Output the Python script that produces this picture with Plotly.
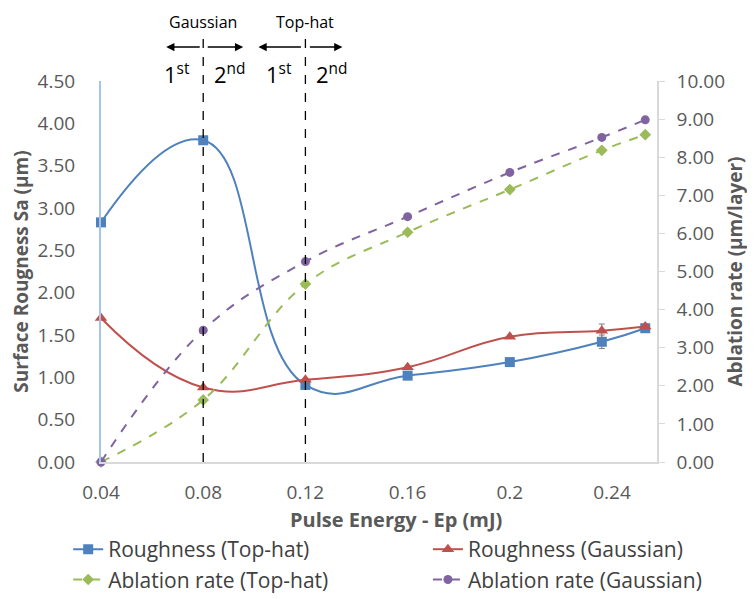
import plotly.graph_objects as go

# ---- data ----
pulse_energy = [0.04, 0.08, 0.12, 0.16, 0.2, 0.236, 0.253]
rough_tophat = [2.83, 3.80, 0.91, 1.02, 1.18, 1.42, 1.58]
rough_gauss = [1.70, 0.88, 0.97, 1.12, 1.48, 1.55, 1.60]
abl_tophat = [0.0, 1.63, 4.67, 6.03, 7.15, 8.18, 8.59]
abl_gauss = [0.0, 3.46, 5.26, 6.44, 7.60, 8.52, 8.98]
rough_tophat_err = [0, 0, 0, 0, 0, 0.08, 0]
rough_gauss_err = [0, 0, 0, 0, 0, 0.08, 0]
x_ticks = [0.04, 0.08, 0.12, 0.16, 0.2, 0.24]
x_tick_labels = ["0.04", "0.08", "0.12", "0.16", "0.2", "0.24"]
mode_boundaries = [0.08, 0.12]
mode_names = ["Gaussian", "Top-hat"]

FONT = "Open Sans"
GRAY = "#595959"

fig = go.Figure()

fig.add_trace(go.Scatter(
    x=pulse_energy, y=rough_tophat, name="Roughness (Top-hat)", legend="legend",
    mode="lines+markers", line=dict(color="#4F81BD", width=2, shape="spline", smoothing=1.3),
    marker=dict(symbol="square", size=10, color="#4F81BD"),
    error_y=dict(type="data", array=rough_tophat_err, color="#7F7F7F", thickness=1, width=3),
    cliponaxis=False))
fig.add_trace(go.Scatter(
    x=pulse_energy, y=rough_gauss, name="Roughness (Gaussian)", legend="legend2",
    mode="lines+markers", line=dict(color="#C0504D", width=2, shape="spline", smoothing=1.3),
    marker=dict(symbol="triangle-up", size=11, color="#C0504D"),
    error_y=dict(type="data", array=rough_gauss_err, color="#7F7F7F", thickness=1, width=3),
    cliponaxis=False))
fig.add_trace(go.Scatter(
    x=pulse_energy, y=abl_tophat, name="Ablation rate (Top-hat)", yaxis="y2", legend="legend",
    mode="lines+markers", line=dict(color="#9BBB59", width=2, dash="dash", shape="spline", smoothing=1.1),
    marker=dict(symbol="diamond", size=9, color="#9BBB59"),
    cliponaxis=False))
fig.add_trace(go.Scatter(
    x=pulse_energy, y=abl_gauss, name="Ablation rate (Gaussian)", yaxis="y2", legend="legend2",
    mode="lines+markers", line=dict(color="#8064A2", width=2, dash="dash", shape="spline", smoothing=1.1),
    marker=dict(symbol="circle", size=9, color="#8064A2"),
    cliponaxis=False))

shapes = []
annotations = []
for xb, nm in zip(mode_boundaries, mode_names):
    shapes.append(dict(type="line", xref="x", yref="paper", x0=xb, x1=xb, y0=0, y1=1.113,
                       line=dict(color="black", width=1.3, dash="dash")))
    annotations.append(dict(x=xb, y=1.155, xref="x", yref="paper", text=nm, showarrow=False,
                            xanchor="center", yanchor="middle",
                            font=dict(family=FONT, size=16, color="black")))

# arrows (head shift, tail offset)
arrow_specs = [(0.08, -37, 35), (0.08, 40, -37), (0.12, -47, 44), (0.12, 37, -34)]
for xb, xs, ax in arrow_specs:
    annotations.append(dict(x=xb, y=1.089, xref="x", yref="paper", xshift=xs, ax=ax, ay=0,
                            text="", showarrow=True, arrowhead=2, arrowsize=1.1, arrowwidth=1.5,
                            arrowcolor="black"))
for xb in mode_boundaries:
    annotations.append(dict(x=xb, y=1.066, xref="x", yref="paper", xshift=-26, text="1<sup>st</sup>",
                            showarrow=False, xanchor="center", yanchor="top",
                            font=dict(family=FONT, size=22, color="black")))
    annotations.append(dict(x=xb, y=1.066, xref="x", yref="paper", xshift=26, text="2<sup>nd</sup>",
                            showarrow=False, xanchor="center", yanchor="top",
                            font=dict(family=FONT, size=22, color="black")))

# x-axis title (placed as in the reference, slightly right of centre)
annotations.append(dict(x=0.531, y=-0.152, xref="paper", yref="paper", showarrow=False,
                        text="<b>Pulse Energy - Ep (mJ)</b>", xanchor="center", yanchor="middle",
                        font=dict(family=FONT, size=20, color=GRAY)))

legend_common = dict(orientation="v", yanchor="top", xanchor="left", itemwidth=30,
                     font=dict(family=FONT, size=21, color="#404040"), bgcolor="rgba(0,0,0,0)",
                     tracegroupgap=0)

fig.update_layout(
    width=747, height=591,
    margin=dict(l=93, r=98, t=73, b=137, autoexpand=False),
    paper_bgcolor="white", plot_bgcolor="white",
    font=dict(family=FONT, color=GRAY),
    shapes=shapes, annotations=annotations,
    xaxis=dict(range=[0.04, 0.2576], tickvals=x_ticks, ticktext=x_tick_labels,
               showline=True, linecolor="#D9D9D9", linewidth=1.5, showgrid=False, zeroline=False,
               ticks="", ticklabelstandoff=12, tickfont=dict(size=19, color=GRAY)),
    yaxis=dict(range=[0, 4.5], dtick=0.5, tickformat=".2f", showline=True, linecolor="#A6C3E8",
               linewidth=2, showgrid=False, zeroline=False, ticks="", ticklabelstandoff=20,
               tickfont=dict(size=19, color=GRAY),
               title=dict(text="<b>Surface Rougness Sa (µm)</b>", font=dict(size=19, color=GRAY), standoff=6)),
    yaxis2=dict(range=[0, 10], dtick=1, tickformat=".2f", overlaying="y", side="right",
                showline=True, linecolor="#D9D9D9", linewidth=1.5, showgrid=False, zeroline=False,
                ticks="outside", ticklen=6, tickcolor="#D9D9D9", ticklabelstandoff=8,
                tickfont=dict(size=19, color=GRAY),
                title=dict(text="<b>Ablation rate (µm/layer)</b>", font=dict(size=19, color=GRAY), standoff=5)),
    legend=dict(x=-0.059, y=-0.176, **legend_common),
    legend2=dict(x=0.588, y=-0.176, **legend_common),
)

fig.write_html("out.html")
